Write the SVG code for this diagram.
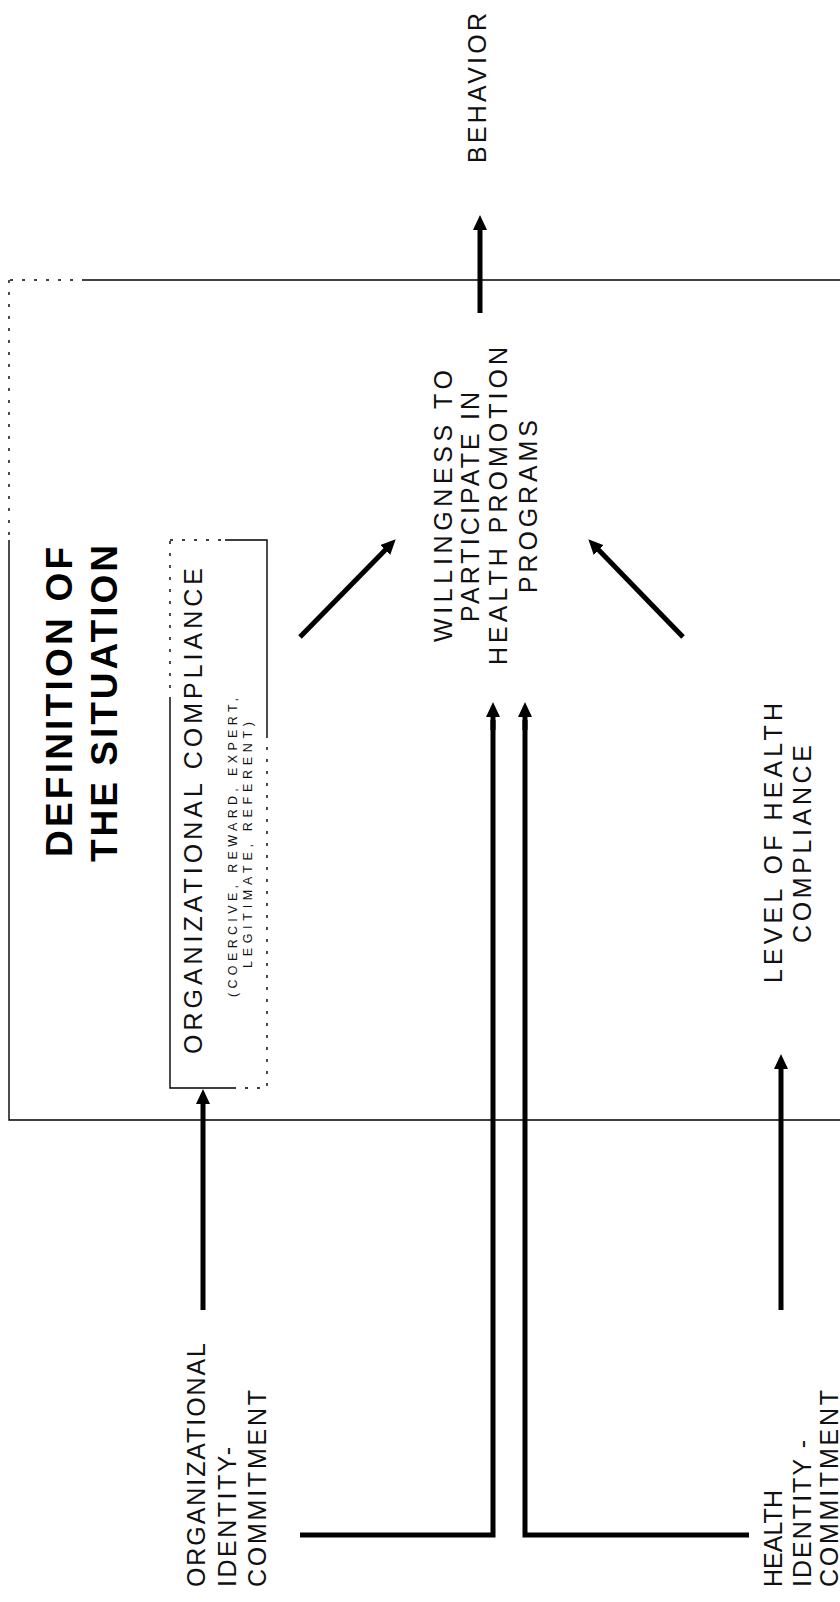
<svg xmlns="http://www.w3.org/2000/svg" width="840" height="1602" viewBox="0 0 840 1602">
<defs>
<style>
.t{font-family:"Liberation Sans",Arial,sans-serif;font-size:25px;fill:#111;}
.s{font-family:"Liberation Sans",Arial,sans-serif;font-size:12.5px;fill:#111;}
.b{font-family:"Liberation Sans",Arial,sans-serif;font-size:37px;font-weight:bold;fill:#000;}
.frame{fill:none;stroke:#000;stroke-width:1.4;}
.faint{fill:none;stroke:#000;stroke-width:1.4;stroke-dasharray:3 9;}
.arr{fill:none;stroke:#000;stroke-width:5;marker-end:url(#ah);}
.thick{fill:none;stroke:#000;stroke-width:5;stroke-linejoin:miter;}
</style>
<marker id="ah" markerUnits="userSpaceOnUse" markerWidth="20" markerHeight="20" viewBox="0 0 20 20" refX="6" refY="7" orient="auto">
<path d="M0,0 L15,7 L0,14 Z" fill="#000"/>
</marker>
</defs>
<rect width="840" height="1602" fill="#fff"/>

<g id="situation-frame">
<path class="frame" d="M840,280 H85"/>
<path class="faint" d="M85,280 H9"/>
<path class="faint" d="M9,280 V540"/>
<path class="frame" d="M9,540 V1120 H840"/>
</g>

<g id="title">
<text class="b" transform="translate(72,857) rotate(-90)" textLength="310" lengthAdjust="spacing">DEFINITION OF</text>
<text class="b" transform="translate(117,862) rotate(-90)" textLength="317" lengthAdjust="spacing">THE SITUATION</text>
</g>

<g id="behavior">
<text class="t" transform="translate(486,163) rotate(-90)" textLength="150" lengthAdjust="spacing">BEHAVIOR</text>
</g>

<g id="organizational-compliance">
<path class="faint" d="M170,540 H225"/>
<path class="frame" d="M225,540 H267 V735"/>
<path class="faint" d="M267,735 V1088 H235"/>
<path class="frame" d="M235,1088 H170 V700"/>
<path class="faint" d="M170,700 V540"/>
<text class="t" transform="translate(202,1054) rotate(-90)" textLength="486" lengthAdjust="spacing">ORGANIZATIONAL COMPLIANCE</text>
<text class="s" transform="translate(237,997) rotate(-90)" textLength="299" lengthAdjust="spacing">(COERCIVE, REWARD, EXPERT,</text>
<text class="s" transform="translate(252,968) rotate(-90)" textLength="246" lengthAdjust="spacing">LEGITIMATE, REFERENT)</text>
</g>

<g id="willingness">
<text class="t" transform="translate(452,642) rotate(-90)" textLength="272" lengthAdjust="spacing">WILLINGNESS TO</text>
<text class="t" transform="translate(479,622) rotate(-90)" textLength="230" lengthAdjust="spacing">PARTICIPATE IN</text>
<text class="t" transform="translate(507,665) rotate(-90)" textLength="318" lengthAdjust="spacing">HEALTH PROMOTION</text>
<text class="t" transform="translate(537,593) rotate(-90)" textLength="173" lengthAdjust="spacing">PROGRAMS</text>
</g>

<g id="level-of-health-compliance">
<text class="t" transform="translate(782,983) rotate(-90)" textLength="280" lengthAdjust="spacing">LEVEL OF HEALTH</text>
<text class="t" transform="translate(811,943) rotate(-90)" textLength="198" lengthAdjust="spacing">COMPLIANCE</text>
</g>

<g id="organizational-identity">
<text class="t" transform="translate(205,1587) rotate(-90)" textLength="244" lengthAdjust="spacing">ORGANIZATIONAL</text>
<text class="t" transform="translate(236,1587) rotate(-90)" textLength="140" lengthAdjust="spacing">IDENTITY-</text>
<text class="t" transform="translate(266,1587) rotate(-90)" textLength="197" lengthAdjust="spacing">COMMITMENT</text>
</g>

<g id="health-identity">
<text class="t" transform="translate(782,1587) rotate(-90)" textLength="97" lengthAdjust="spacing">HEALTH</text>
<text class="t" transform="translate(811,1587) rotate(-90)" textLength="147" lengthAdjust="spacing">IDENTITY -</text>
<text class="t" transform="translate(838,1587) rotate(-90)" textLength="197" lengthAdjust="spacing">COMMITMENT</text>
</g>

<g id="connectors">
<line class="arr" x1="480" y1="313" x2="480" y2="224"/>
<line class="arr" x1="300" y1="637" x2="389.4" y2="545.7"/>
<line class="arr" x1="683" y1="637" x2="594.6" y2="545.7"/>
<path class="thick" d="M300,1535 H493 V720"/>
<line class="arr" x1="493" y1="730" x2="493" y2="711"/>
<path class="thick" d="M749,1535 H525 V720"/>
<line class="arr" x1="525" y1="730" x2="525" y2="711"/>
<line class="arr" x1="203" y1="1310" x2="203" y2="1098"/>
<line class="arr" x1="781" y1="1310" x2="781" y2="1063"/>
</g>
</svg>
